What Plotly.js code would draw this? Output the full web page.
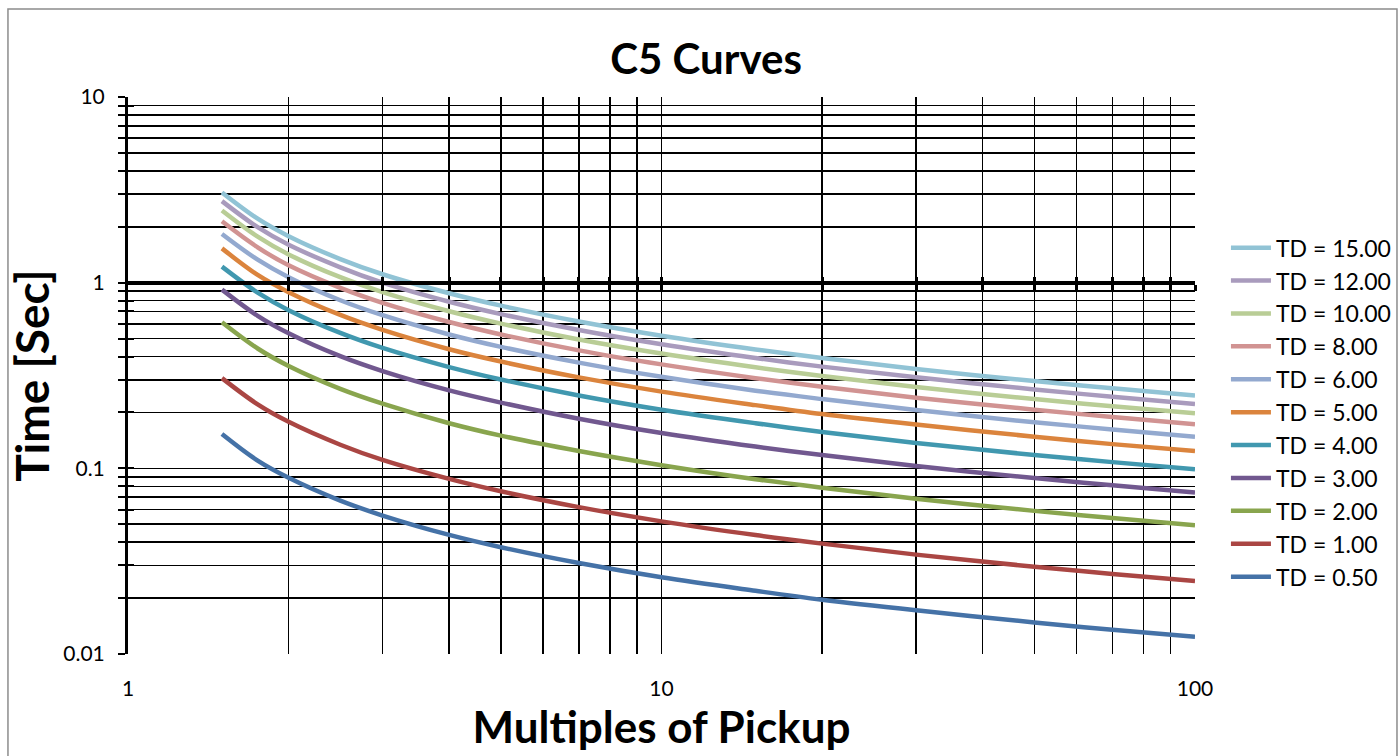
<!DOCTYPE html>
<html>
<head>
<meta charset="utf-8">
<script src="https://cdn.plot.ly/plotly-3.0.1.min.js"></script>
<style>html,body{margin:0;padding:0;background:#fff;}#chart{width:1399px;height:756px;}</style>
</head>
<body>
<div id="chart"></div>
<script>
// Multiples of pickup (x values)
const multiples = [1.5, 1.75, 2, 2.5, 3, 4, 5, 7, 10, 15, 20, 30, 50, 70, 100];

// Operating time [sec], one array per curve
const td050 = [0.153, 0.110, 0.0889, 0.0670, 0.0557, 0.0438, 0.0376, 0.0309, 0.0259, 0.0219, 0.0196, 0.0172, 0.0148, 0.0135, 0.0124];
const td100 = [0.306, 0.221, 0.178, 0.134, 0.111, 0.0877, 0.0752, 0.0618, 0.0518, 0.0437, 0.0393, 0.0343, 0.0295, 0.0270, 0.0247];
const td200 = [0.612, 0.442, 0.356, 0.268, 0.223, 0.175, 0.150, 0.124, 0.104, 0.0874, 0.0786, 0.0686, 0.0590, 0.0540, 0.0494];
const td300 = [0.917, 0.663, 0.534, 0.402, 0.334, 0.263, 0.226, 0.185, 0.155, 0.131, 0.118, 0.103, 0.0886, 0.0810, 0.0742];
const td400 = [1.22, 0.884, 0.711, 0.536, 0.445, 0.351, 0.301, 0.247, 0.207, 0.175, 0.157, 0.137, 0.118, 0.108, 0.0989];
const td500 = [1.53, 1.10, 0.889, 0.670, 0.557, 0.438, 0.376, 0.309, 0.259, 0.219, 0.196, 0.172, 0.148, 0.135, 0.124];
const td600 = [1.83, 1.33, 1.07, 0.804, 0.668, 0.526, 0.451, 0.371, 0.311, 0.262, 0.236, 0.206, 0.177, 0.162, 0.148];
const td800 = [2.14, 1.55, 1.24, 0.938, 0.779, 0.614, 0.526, 0.432, 0.363, 0.306, 0.275, 0.240, 0.207, 0.189, 0.173];
const td1000 = [2.45, 1.77, 1.42, 1.07, 0.890, 0.702, 0.602, 0.494, 0.415, 0.350, 0.314, 0.274, 0.236, 0.216, 0.198];
const td1200 = [2.75, 1.99, 1.60, 1.21, 1.00, 0.789, 0.677, 0.556, 0.466, 0.393, 0.353, 0.309, 0.266, 0.243, 0.222];
const td1500 = [3.06, 2.21, 1.78, 1.34, 1.11, 0.877, 0.752, 0.618, 0.518, 0.437, 0.393, 0.343, 0.295, 0.270, 0.247];

const seriesNames = ["TD = 0.50", "TD = 1.00", "TD = 2.00", "TD = 3.00", "TD = 4.00", "TD = 5.00", "TD = 6.00", "TD = 8.00", "TD = 10.00", "TD = 12.00", "TD = 15.00"];
const seriesValues = [td050, td100, td200, td300, td400, td500, td600, td800, td1000, td1200, td1500];
const seriesColors = ["#4572A7", "#AA4643", "#89A54E", "#71588F", "#4198AF", "#DB843D", "#93A9CF", "#D19392", "#B9CD96", "#A99BBD", "#91C3D5"];

// Gridline / tick positions and labels
const xTickVals = [1,2,3,4,5,6,7,8,9,10,20,30,40,50,60,70,80,90,100];
const xTickText = ["1","","","","","","","","","10","","","","","","","","","100"];
const yTickVals = [0.01,0.02,0.03,0.04,0.05,0.06,0.07,0.08,0.09,0.1,0.2,0.3,0.4,0.5,0.6,0.7,0.8,0.9,1,2,3,4,5,6,7,8,9,10];
const yTickText = ["0.01","","","","","","","","","0.1","","","","","","","","","1","","","","","","","","","10"];
const crossTickVals = [2,3,4,5,6,7,8,9,10,20,30,40,50,60,70,80,90,100];

const FONT = "Lato, 'Open Sans', sans-serif";

const traces = seriesNames.map((name, i) => ({
  type: "scatter",
  mode: "lines",
  name: name,
  x: multiples,
  y: seriesValues[i],
  line: {color: seriesColors[i], width: 4.5, shape: "spline", smoothing: 1},
  legendgroup: "g" + i,
  xaxis: "x",
  yaxis: "y"
}));

// invisible helpers so the crossing axes are drawn
traces.push({type: "scatter", x: [], y: [], xaxis: "x2", yaxis: "y", showlegend: false, hoverinfo: "skip"});
traces.push({type: "scatter", x: [], y: [], xaxis: "x3", yaxis: "y", showlegend: false, hoverinfo: "skip"});
traces.push({type: "scatter", x: [], y: [], xaxis: "x", yaxis: "y2", showlegend: false, hoverinfo: "skip"});

const xr = [0, 2];
const yr = [-2, 1];

const layout = {
  width: 1399,
  height: 756,
  paper_bgcolor: "#ffffff",
  plot_bgcolor: "#ffffff",
  margin: {l: 128, r: 204, t: 97, b: 102, autoexpand: false},
  font: {family: FONT, color: "#000"},
  showlegend: true,
  title: {
    text: "<b>C5 Curves</b>",
    font: {family: FONT, size: 42, color: "#000"},
    x: 0.5047, xref: "container", xanchor: "center",
    y: 0.921, yref: "container", yanchor: "middle"
  },
  xaxis: {
    type: "log", range: xr,
    tickmode: "array", tickvals: xTickVals, ticktext: xTickText,
    ticks: "outside", ticklen: 16, tickcolor: "rgba(0,0,0,0)",
    tickfont: {family: FONT, size: 21, color: "#000"},
    showgrid: true, gridcolor: "#000", gridwidth: 1.5,
    showline: false, zeroline: false,
    title: {text: "<b>Multiples of Pickup</b>", font: {family: FONT, size: 44, color: "#000"}, standoff: 6}
  },
  xaxis2: {
    type: "log", range: xr, overlaying: "x", anchor: "free", position: 2/3, side: "bottom",
    tickmode: "array", tickvals: crossTickVals, showticklabels: false,
    ticks: "outside", ticklen: 6, tickwidth: 3, tickcolor: "#000",
    showline: true, linewidth: 4, linecolor: "#000", showgrid: false, zeroline: false
  },
  xaxis3: {
    type: "log", range: xr, overlaying: "x", anchor: "free", position: 2/3, side: "bottom",
    tickmode: "array", tickvals: crossTickVals, showticklabels: false,
    ticks: "inside", ticklen: 6, tickwidth: 3, tickcolor: "#000",
    showline: false, showgrid: false, zeroline: false
  },
  yaxis: {
    type: "log", range: yr,
    tickmode: "array", tickvals: yTickVals, ticktext: yTickText,
    ticks: "outside", ticklen: 7, tickwidth: 2, tickcolor: "#000",
    ticklabelstandoff: 9,
    tickfont: {family: FONT, size: 21, color: "#000"},
    showgrid: true, gridcolor: "#000", gridwidth: 1.5,
    showline: true, linewidth: 3, linecolor: "#000", zeroline: false,
    title: {text: "<b>Time [Sec]</b>", font: {family: FONT, size: 46, color: "#000"}, standoff: 0}
  },
  yaxis2: {
    type: "log", range: yr, overlaying: "y", side: "left", anchor: "x",
    tickmode: "array", tickvals: yTickVals, showticklabels: false,
    ticks: "inside", ticklen: 6, tickwidth: 2, tickcolor: "#000",
    showline: false, showgrid: false, zeroline: false
  },
  legend: {
    x: 1.029, xanchor: "left", y: 0.768, yanchor: "top",
    traceorder: "reversed",
    tracegroupgap: 15,
    font: {family: FONT, size: 23, color: "#000"},
    bgcolor: "rgba(0,0,0,0)", borderwidth: 0,
    itemwidth: 40
  },
  shapes: [{
    type: "rect", xref: "paper", yref: "paper",
    x0: -0.1125, x1: 1.1893, y0: -0.19, y1: 1.158,
    line: {color: "#8c8c8c", width: 1.5}, fillcolor: "rgba(0,0,0,0)", layer: "below"
  }]
};

Plotly.newPlot("chart", traces, layout, {displayModeBar: false, staticPlot: true});
</script>
</body>
</html>
